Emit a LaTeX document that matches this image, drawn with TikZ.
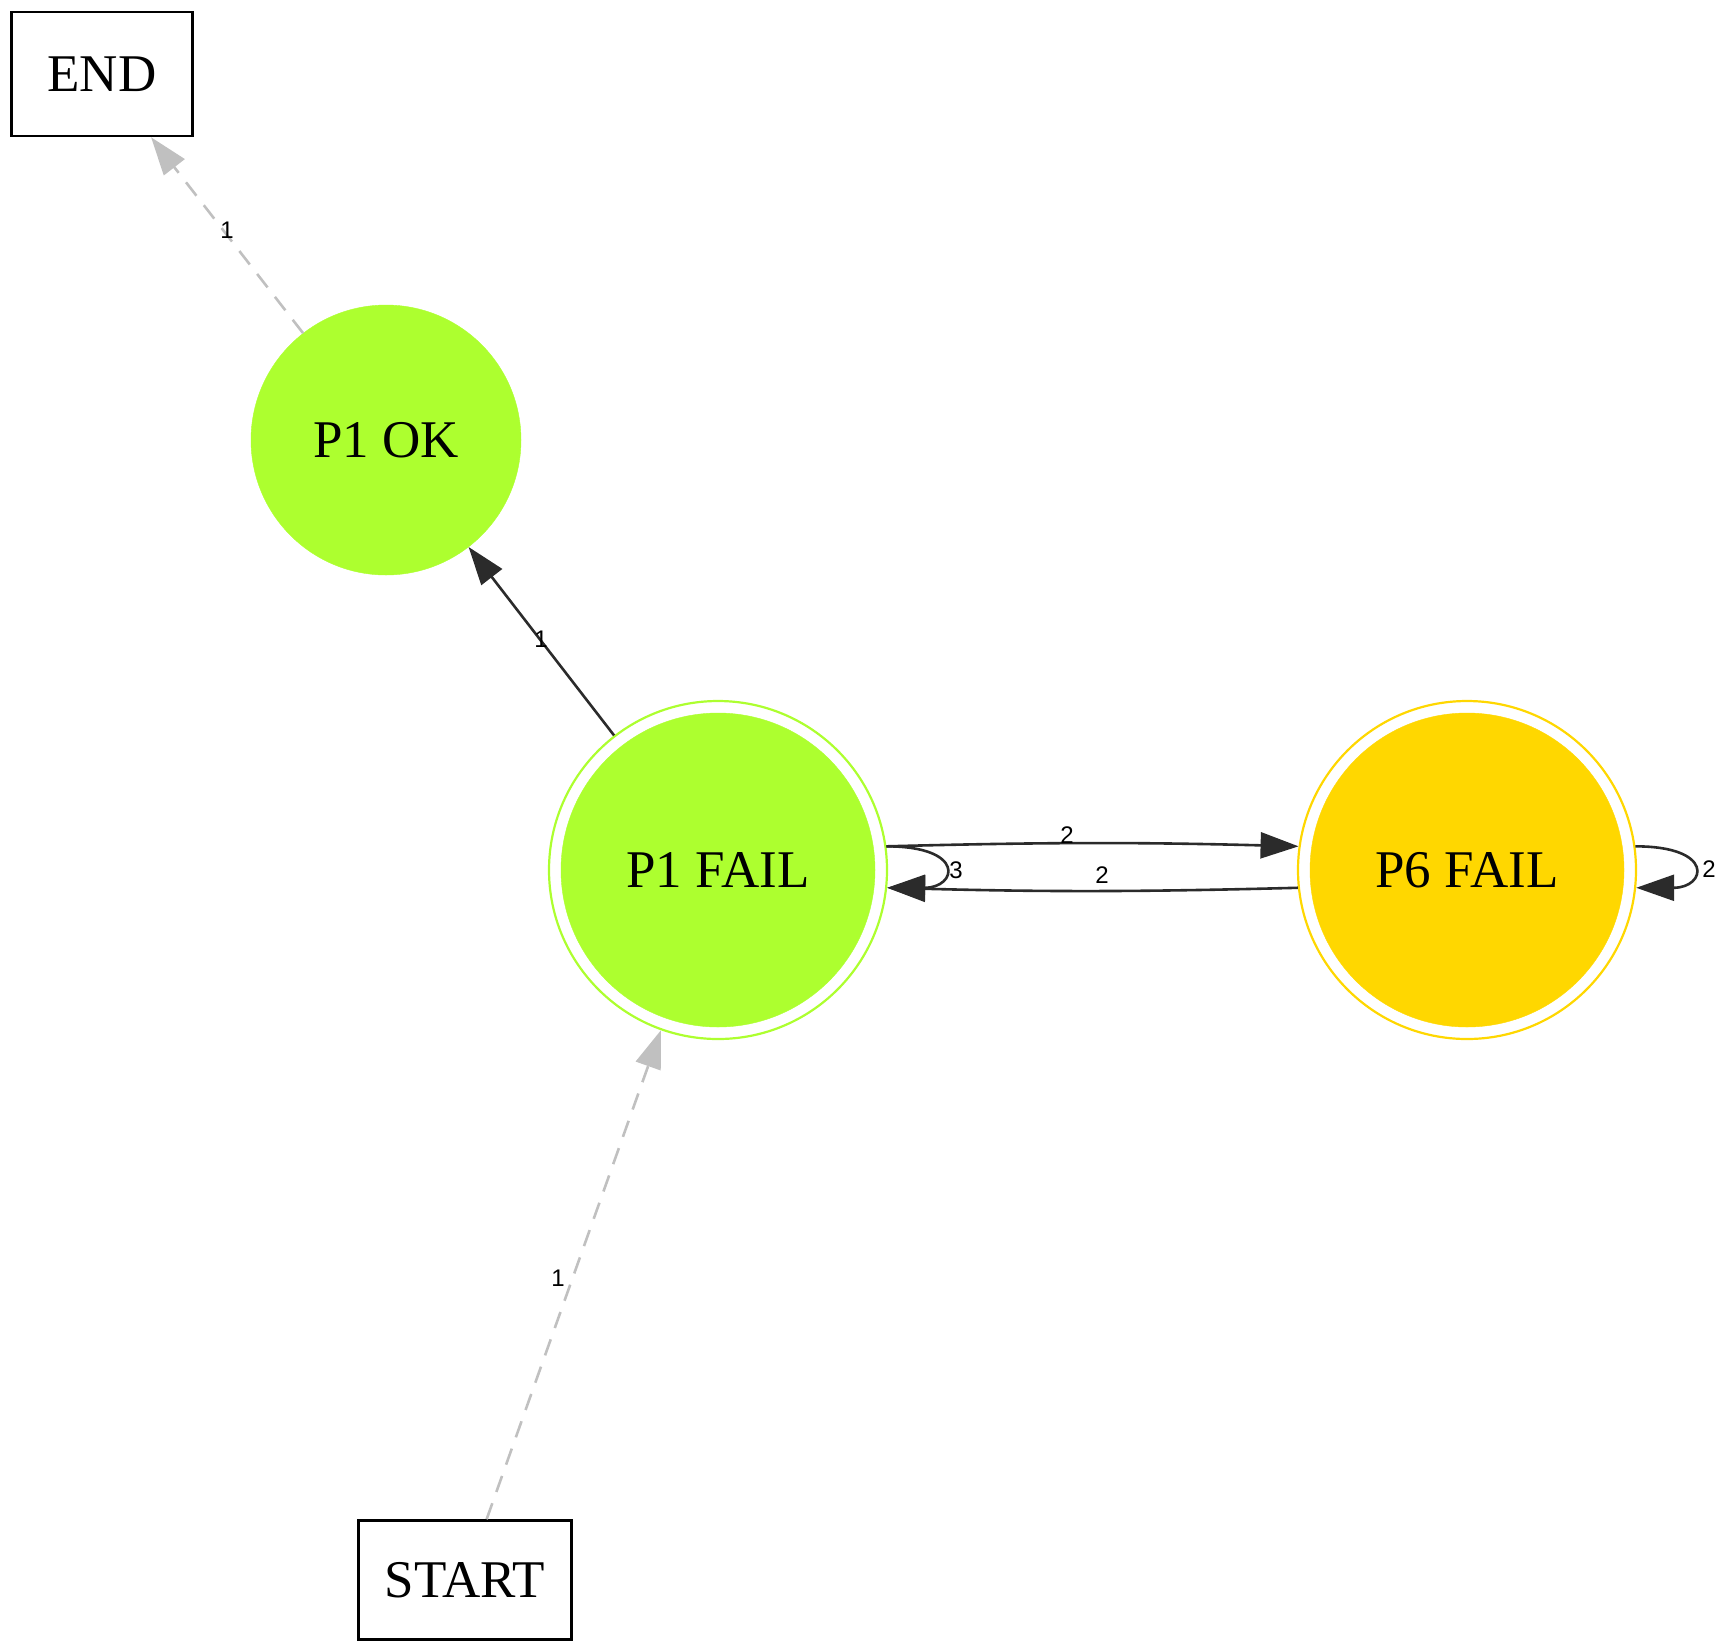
\documentclass[tikz,border=0pt]{standalone}
\usepackage{fontspec}
\setmainfont{Liberation Serif}
\newfontfamily\labfont{Liberation Sans}
\usetikzlibrary{arrows.meta}
\definecolor{gy}{HTML}{ADFF2F}
\definecolor{gd}{HTML}{FFD700}
\definecolor{ed}{HTML}{2B2B2B}
\definecolor{gr}{HTML}{C0C0C0}
\begin{document}
\begin{tikzpicture}[x=1pt,y=-1pt,
  boxnode/.style={draw=black,line width=2.5pt,minimum width=181pt,minimum height=124pt,inner sep=0pt,font=\fontsize{53}{60}\selectfont},
  outerc/.style={circle,draw=#1,line width=2.2pt,minimum size=338pt,inner sep=0pt},
  innerc/.style={circle,fill=#1,draw=#1,minimum size=314pt,inner sep=0pt,font=\fontsize{53}{60}\selectfont},
  singlec/.style={circle,fill=#1,draw=#1,minimum size=270pt,inner sep=0pt,font=\fontsize{53}{60}\selectfont},
  edgeline/.style={draw=ed,line width=2.6pt,-{Triangle[length=38pt,width=26pt]}},
  grayline/.style={draw=gr,line width=2.6pt,dash pattern=on 17pt off 12pt,-{Triangle[length=38pt,width=26pt]}},
  lab/.style={font=\labfont\fontsize{24}{26}\selectfont,inner sep=1pt}]
\useasboundingbox (0,0) rectangle (1726,1650);
% nodes
\node[boxnode] (END) at (102,74) {END};
\node[boxnode,minimum width=213pt,minimum height=119pt] (START) at (465,1580) {START};
\node[singlec=gy] (P1OK) at (386,440) {P1 OK};
\node[outerc=gy] (P1F) at (718,870) {};
\node[innerc=gy] (P1Fi) at (718,870) {P1 FAIL};
\node[outerc=gd] (P6F) at (1467,870) {};
\node[innerc=gd] (P6Fi) at (1467,870) {P6 FAIL};
% edges
\draw[grayline] (P1OK) -- (END);
\draw[grayline] (START) -- (P1F);
\draw[edgeline] (P1F) -- (P1OK);
\draw[edgeline] (P1F.8) to[bend left=1.5] (P6F.172);
\draw[edgeline] (P6F.-174) to[bend left=1.5] (P1F.-6);
\draw[edgeline] (P1F.8) .. controls ([xshift=80pt]P1F.8) and ([xshift=70pt]P1F.-6) .. (P1F.-6);
\draw[edgeline] (P6F.8) .. controls ([xshift=80pt]P6F.8) and ([xshift=70pt]P6F.-6) .. (P6F.-6);
% labels
\node[lab] (l1) at (227,230) {1};
\node[lab] (l2) at (541,639) {1};
\node[lab] (l3) at (558,1278) {1};
\node[lab] (l4) at (1067,835) {2};
\node[lab] (l5) at (1102,875) {2};
\node[lab] (l6) at (956,870) {3};
\node[lab] (l7) at (1709,869) {2};
\end{tikzpicture}
\end{document}
